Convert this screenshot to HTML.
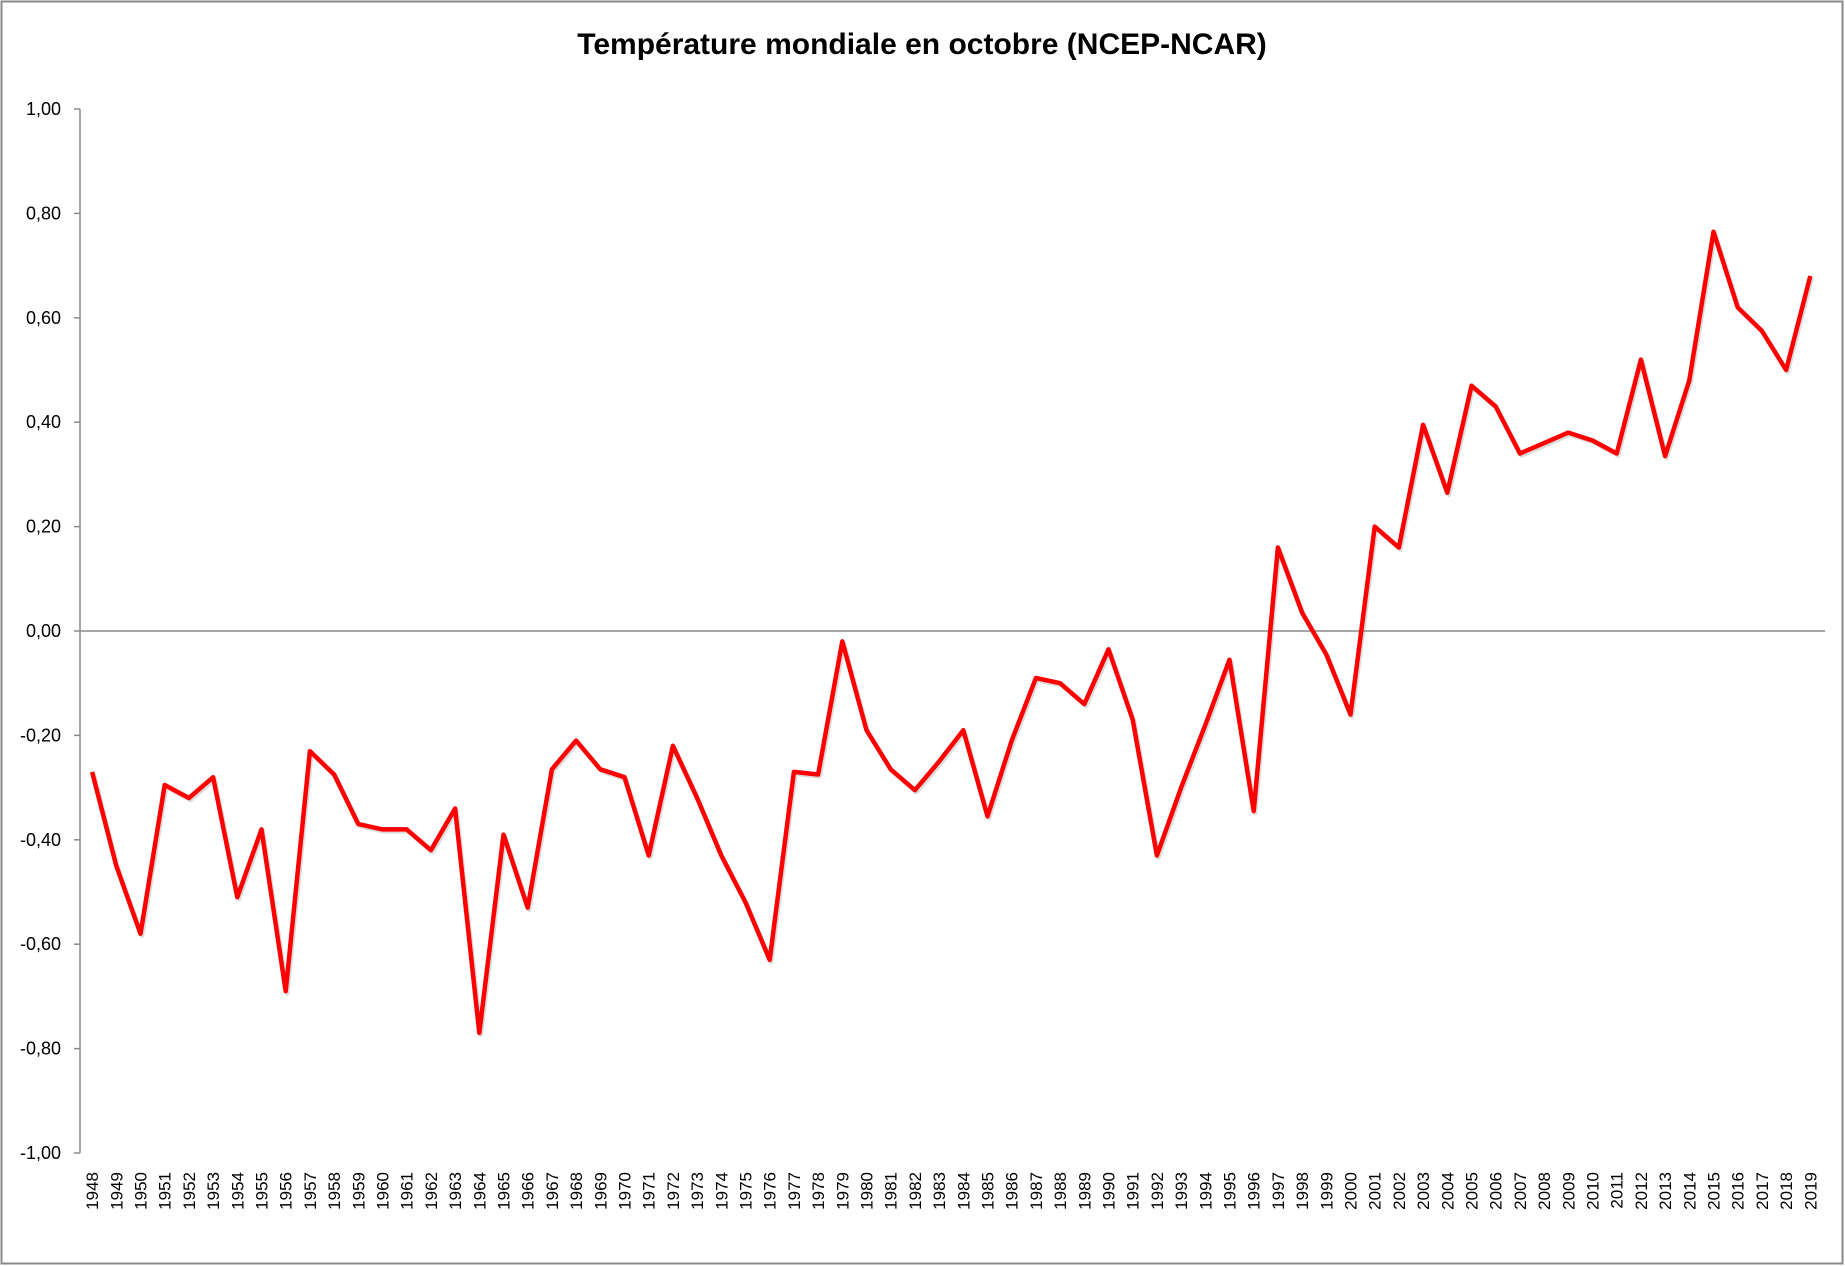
<!DOCTYPE html>
<html><head><meta charset="utf-8"><style>
body{margin:0;background:#fff}
svg{display:block}
text{font-family:"Liberation Sans",sans-serif;fill:#000}
</style></head><body>
<svg id="s" width="1845" height="1266" xmlns="http://www.w3.org/2000/svg">
<rect x="1.5" y="1.5" width="1841" height="1262" fill="#fff" stroke="#8a8a8a" stroke-width="2"/>
<text x="922" y="54" text-anchor="middle" font-size="30" font-weight="bold">Température mondiale en octobre (NCEP-NCAR)</text>
<g id="g"></g>
</svg>
<script>
const vals=[-0.27,-0.45,-0.58,-0.295,-0.32,-0.28,-0.51,-0.38,-0.69,-0.23,-0.275,-0.37,-0.38,-0.38,-0.42,-0.34,-0.77,-0.39,-0.53,-0.265,-0.21,-0.265,-0.28,-0.43,-0.22,-0.32,-0.43,-0.52,-0.63,-0.27,-0.275,-0.02,-0.19,-0.265,-0.305,-0.25,-0.19,-0.355,-0.21,-0.09,-0.10,-0.14,-0.035,-0.17,-0.43,-0.30,-0.18,-0.055,-0.345,0.16,0.035,-0.045,-0.16,0.20,0.16,0.395,0.265,0.47,0.43,0.34,0.36,0.38,0.365,0.34,0.52,0.335,0.48,0.765,0.62,0.575,0.50,0.68];
const X0=80,STEP=24.2,Y0=631,U=522;
const yv=v=>Y0-v*U, xi=i=>X0+STEP*(i+0.5);
let h='';
h+=`<line x1="${X0}" y1="109" x2="${X0}" y2="1153" stroke="#8a8a8a" stroke-width="1.5"/>`;
h+=`<line x1="${X0}" y1="${Y0}" x2="1825" y2="${Y0}" stroke="#8a8a8a" stroke-width="1.5"/>`;
for(let k=-5;k<=5;k++){const v=k*0.2,y=yv(v);
h+=`<line x1="${X0-6}" y1="${y}" x2="${X0}" y2="${y}" stroke="#8a8a8a" stroke-width="1.5"/>`;
h+=`<text x="61" y="${y+6}" text-anchor="end" font-size="18">${v.toFixed(2).replace('.',',').replace('-0,00','0,00')}</text>`;}
vals.forEach((v,i)=>{const x=xi(i);
h+=`<text transform="translate(${x+6},1172) rotate(-90)" text-anchor="end" font-size="17">${1948+i}</text>`;});
const pts=vals.map((v,i)=>xi(i).toFixed(1)+','+yv(v).toFixed(1)).join(' ');
h+=`<polyline points="${pts}" fill="none" stroke="#999" stroke-opacity="0.35" stroke-width="4.5" transform="translate(1.5,2)" stroke-linejoin="round"/>`;
h+=`<polyline points="${pts}" fill="none" stroke="#ff0000" stroke-width="4.5" stroke-linejoin="round"/>`;
document.getElementById('g').innerHTML=h;
</script>
</body></html>
